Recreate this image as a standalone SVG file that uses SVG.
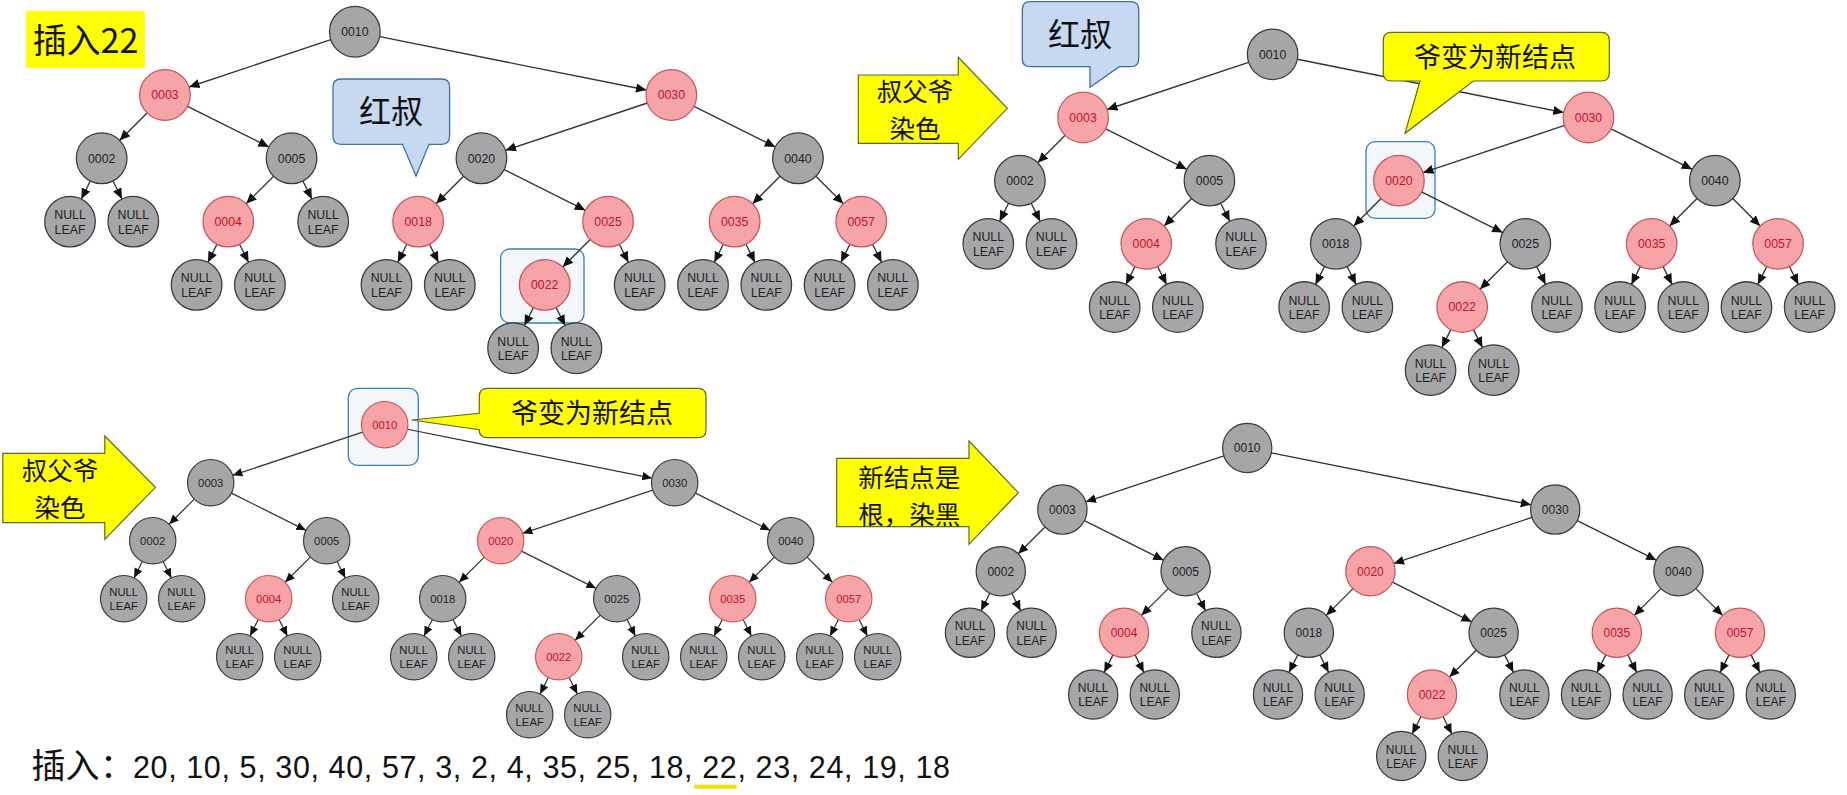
<svg xmlns="http://www.w3.org/2000/svg" width="1847" height="795" viewBox="0 0 1847 795">
<defs>
<marker id="arr" viewBox="0 0 10 10" refX="10" refY="5" markerWidth="10" markerHeight="10" markerUnits="userSpaceOnUse" orient="auto"><path d="M0,0.6 L10,5 L0,9.4 z" fill="#111"/></marker>
</defs>
<style>
.e line{stroke:#333;stroke-width:1.3;marker-end:url(#arr)}
.g{fill:#a6a6a8;stroke:#3a3a3a;stroke-width:1.2}
.r{fill:#f6a4a7;stroke:#c4585a;stroke-width:1.2}
.tg,.tr{font-family:"Liberation Sans",Arial,sans-serif;font-size:11.7px;text-anchor:middle}
.tg{fill:#1e1e1e}
.tr{fill:#c4102c}
.hl{fill:#f3f6fb;stroke:#3d7fb0;stroke-width:1.3}
.cj{font-family:"Noto Sans CJK SC","Noto Sans CJK JP",sans-serif;fill:#111;text-anchor:middle}
.yb{fill:#ffff00;stroke:#5a6a2a;stroke-width:1.2}
.bb{fill:#c6d9f0;stroke:#3f6fa6;stroke-width:1.3}
</style>
<rect width="1847" height="795" fill="#ffffff"/>

<!-- highlight boxes -->
<rect class="hl" x="500.6" y="249" width="83.4" height="74" rx="9"/>
<rect class="hl" x="1366" y="141.7" width="69" height="76.6" rx="9"/>
<rect class="hl" x="348.3" y="388.3" width="70" height="77" rx="9"/>

<!-- ===== Panel 1 ===== -->
<g id="panel1" transform="translate(70,31.7) scale(1.055)">
<g class="e" id="p1-edges">
<line x1="247.23" y1="7.59" x2="112.77" y2="52.41"/>
<line x1="293.53" y1="4.71" x2="546.47" y2="55.29"/>
<line x1="73.03" y1="76.97" x2="46.97" y2="103.03"/>
<line x1="111.47" y1="70.73" x2="188.53" y2="109.27"/>
<line x1="547.23" y1="67.59" x2="412.77" y2="112.41"/>
<line x1="591.47" y1="70.73" x2="668.53" y2="109.27"/>
<line x1="19.27" y1="141.47" x2="10.73" y2="158.53"/>
<line x1="40.73" y1="141.47" x2="49.27" y2="158.53"/>
<line x1="193.03" y1="136.97" x2="166.97" y2="163.03"/>
<line x1="220.73" y1="141.47" x2="229.27" y2="158.53"/>
<line x1="373.03" y1="136.97" x2="346.97" y2="163.03"/>
<line x1="411.47" y1="130.73" x2="488.53" y2="169.27"/>
<line x1="673.03" y1="136.97" x2="646.97" y2="163.03"/>
<line x1="706.97" y1="136.97" x2="733.03" y2="163.03"/>
<line x1="139.27" y1="201.47" x2="130.73" y2="218.53"/>
<line x1="160.73" y1="201.47" x2="169.27" y2="218.53"/>
<line x1="319.27" y1="201.47" x2="310.73" y2="218.53"/>
<line x1="340.73" y1="201.47" x2="349.27" y2="218.53"/>
<line x1="493.03" y1="196.97" x2="466.97" y2="223.03"/>
<line x1="520.73" y1="201.47" x2="529.27" y2="218.53"/>
<line x1="619.27" y1="201.47" x2="610.73" y2="218.53"/>
<line x1="640.73" y1="201.47" x2="649.27" y2="218.53"/>
<line x1="739.27" y1="201.47" x2="730.73" y2="218.53"/>
<line x1="760.73" y1="201.47" x2="769.27" y2="218.53"/>
<line x1="439.27" y1="261.47" x2="430.73" y2="278.53"/>
<line x1="460.73" y1="261.47" x2="469.27" y2="278.53"/>
</g>
<g id="p1-n0010"><circle class="g" cx="270" cy="0" r="24"/><text class="tg" x="270" y="4.2">0010</text></g>
<g id="p1-n0003"><circle class="r" cx="90" cy="60" r="24"/><text class="tr" x="90" y="64.2">0003</text></g>
<g id="p1-n0030"><circle class="r" cx="570" cy="60" r="24"/><text class="tr" x="570" y="64.2">0030</text></g>
<g id="p1-n0002"><circle class="g" cx="30" cy="120" r="24"/><text class="tg" x="30" y="124.2">0002</text></g>
<g id="p1-n0005"><circle class="g" cx="210" cy="120" r="24"/><text class="tg" x="210" y="124.2">0005</text></g>
<g id="p1-n0020"><circle class="g" cx="390" cy="120" r="24"/><text class="tg" x="390" y="124.2">0020</text></g>
<g id="p1-n0040"><circle class="g" cx="690" cy="120" r="24"/><text class="tg" x="690" y="124.2">0040</text></g>
<g id="p1-n0004"><circle class="r" cx="150" cy="180" r="24"/><text class="tr" x="150" y="184.2">0004</text></g>
<g id="p1-n0018"><circle class="r" cx="330" cy="180" r="24"/><text class="tr" x="330" y="184.2">0018</text></g>
<g id="p1-n0025"><circle class="r" cx="510" cy="180" r="24"/><text class="tr" x="510" y="184.2">0025</text></g>
<g id="p1-n0035"><circle class="r" cx="630" cy="180" r="24"/><text class="tr" x="630" y="184.2">0035</text></g>
<g id="p1-n0057"><circle class="r" cx="750" cy="180" r="24"/><text class="tr" x="750" y="184.2">0057</text></g>
<g id="p1-n0022"><circle class="r" cx="450" cy="240" r="24"/><text class="tr" x="450" y="244.2">0022</text></g>
<g id="p1-nil1"><circle class="g" cx="0" cy="180" r="24"/><text class="tg" x="0" y="177.7">NULL</text><text class="tg" x="0" y="191.5">LEAF</text></g>
<g id="p1-nil2"><circle class="g" cx="60" cy="180" r="24"/><text class="tg" x="60" y="177.7">NULL</text><text class="tg" x="60" y="191.5">LEAF</text></g>
<g id="p1-nil3"><circle class="g" cx="240" cy="180" r="24"/><text class="tg" x="240" y="177.7">NULL</text><text class="tg" x="240" y="191.5">LEAF</text></g>
<g id="p1-nil4"><circle class="g" cx="120" cy="240" r="24"/><text class="tg" x="120" y="237.7">NULL</text><text class="tg" x="120" y="251.5">LEAF</text></g>
<g id="p1-nil5"><circle class="g" cx="180" cy="240" r="24"/><text class="tg" x="180" y="237.7">NULL</text><text class="tg" x="180" y="251.5">LEAF</text></g>
<g id="p1-nil6"><circle class="g" cx="300" cy="240" r="24"/><text class="tg" x="300" y="237.7">NULL</text><text class="tg" x="300" y="251.5">LEAF</text></g>
<g id="p1-nil7"><circle class="g" cx="360" cy="240" r="24"/><text class="tg" x="360" y="237.7">NULL</text><text class="tg" x="360" y="251.5">LEAF</text></g>
<g id="p1-nil8"><circle class="g" cx="540" cy="240" r="24"/><text class="tg" x="540" y="237.7">NULL</text><text class="tg" x="540" y="251.5">LEAF</text></g>
<g id="p1-nil9"><circle class="g" cx="600" cy="240" r="24"/><text class="tg" x="600" y="237.7">NULL</text><text class="tg" x="600" y="251.5">LEAF</text></g>
<g id="p1-nil10"><circle class="g" cx="660" cy="240" r="24"/><text class="tg" x="660" y="237.7">NULL</text><text class="tg" x="660" y="251.5">LEAF</text></g>
<g id="p1-nil11"><circle class="g" cx="720" cy="240" r="24"/><text class="tg" x="720" y="237.7">NULL</text><text class="tg" x="720" y="251.5">LEAF</text></g>
<g id="p1-nil12"><circle class="g" cx="780" cy="240" r="24"/><text class="tg" x="780" y="237.7">NULL</text><text class="tg" x="780" y="251.5">LEAF</text></g>
<g id="p1-nil13"><circle class="g" cx="420" cy="300" r="24"/><text class="tg" x="420" y="297.7">NULL</text><text class="tg" x="420" y="311.5">LEAF</text></g>
<g id="p1-nil14"><circle class="g" cx="480" cy="300" r="24"/><text class="tg" x="480" y="297.7">NULL</text><text class="tg" x="480" y="311.5">LEAF</text></g>
</g>

<!-- ===== Panel 2 ===== -->
<g id="panel2" transform="translate(988.3,54.3) scale(1.053)">
<g class="e" id="p2-edges">
<line x1="247.23" y1="7.59" x2="112.77" y2="52.41"/>
<line x1="293.53" y1="4.71" x2="546.47" y2="55.29"/>
<line x1="73.03" y1="76.97" x2="46.97" y2="103.03"/>
<line x1="111.47" y1="70.73" x2="188.53" y2="109.27"/>
<line x1="547.23" y1="67.59" x2="412.77" y2="112.41"/>
<line x1="591.47" y1="70.73" x2="668.53" y2="109.27"/>
<line x1="19.27" y1="141.47" x2="10.73" y2="158.53"/>
<line x1="40.73" y1="141.47" x2="49.27" y2="158.53"/>
<line x1="193.03" y1="136.97" x2="166.97" y2="163.03"/>
<line x1="220.73" y1="141.47" x2="229.27" y2="158.53"/>
<line x1="373.03" y1="136.97" x2="346.97" y2="163.03"/>
<line x1="411.47" y1="130.73" x2="488.53" y2="169.27"/>
<line x1="673.03" y1="136.97" x2="646.97" y2="163.03"/>
<line x1="706.97" y1="136.97" x2="733.03" y2="163.03"/>
<line x1="139.27" y1="201.47" x2="130.73" y2="218.53"/>
<line x1="160.73" y1="201.47" x2="169.27" y2="218.53"/>
<line x1="319.27" y1="201.47" x2="310.73" y2="218.53"/>
<line x1="340.73" y1="201.47" x2="349.27" y2="218.53"/>
<line x1="493.03" y1="196.97" x2="466.97" y2="223.03"/>
<line x1="520.73" y1="201.47" x2="529.27" y2="218.53"/>
<line x1="619.27" y1="201.47" x2="610.73" y2="218.53"/>
<line x1="640.73" y1="201.47" x2="649.27" y2="218.53"/>
<line x1="739.27" y1="201.47" x2="730.73" y2="218.53"/>
<line x1="760.73" y1="201.47" x2="769.27" y2="218.53"/>
<line x1="439.27" y1="261.47" x2="430.73" y2="278.53"/>
<line x1="460.73" y1="261.47" x2="469.27" y2="278.53"/>
</g>
<g id="p2-n0010"><circle class="g" cx="270" cy="0" r="24"/><text class="tg" x="270" y="4.2">0010</text></g>
<g id="p2-n0003"><circle class="r" cx="90" cy="60" r="24"/><text class="tr" x="90" y="64.2">0003</text></g>
<g id="p2-n0030"><circle class="r" cx="570" cy="60" r="24"/><text class="tr" x="570" y="64.2">0030</text></g>
<g id="p2-n0002"><circle class="g" cx="30" cy="120" r="24"/><text class="tg" x="30" y="124.2">0002</text></g>
<g id="p2-n0005"><circle class="g" cx="210" cy="120" r="24"/><text class="tg" x="210" y="124.2">0005</text></g>
<g id="p2-n0020"><circle class="r" cx="390" cy="120" r="24"/><text class="tr" x="390" y="124.2">0020</text></g>
<g id="p2-n0040"><circle class="g" cx="690" cy="120" r="24"/><text class="tg" x="690" y="124.2">0040</text></g>
<g id="p2-n0004"><circle class="r" cx="150" cy="180" r="24"/><text class="tr" x="150" y="184.2">0004</text></g>
<g id="p2-n0018"><circle class="g" cx="330" cy="180" r="24"/><text class="tg" x="330" y="184.2">0018</text></g>
<g id="p2-n0025"><circle class="g" cx="510" cy="180" r="24"/><text class="tg" x="510" y="184.2">0025</text></g>
<g id="p2-n0035"><circle class="r" cx="630" cy="180" r="24"/><text class="tr" x="630" y="184.2">0035</text></g>
<g id="p2-n0057"><circle class="r" cx="750" cy="180" r="24"/><text class="tr" x="750" y="184.2">0057</text></g>
<g id="p2-n0022"><circle class="r" cx="450" cy="240" r="24"/><text class="tr" x="450" y="244.2">0022</text></g>
<g id="p2-nil1"><circle class="g" cx="0" cy="180" r="24"/><text class="tg" x="0" y="177.7">NULL</text><text class="tg" x="0" y="191.5">LEAF</text></g>
<g id="p2-nil2"><circle class="g" cx="60" cy="180" r="24"/><text class="tg" x="60" y="177.7">NULL</text><text class="tg" x="60" y="191.5">LEAF</text></g>
<g id="p2-nil3"><circle class="g" cx="240" cy="180" r="24"/><text class="tg" x="240" y="177.7">NULL</text><text class="tg" x="240" y="191.5">LEAF</text></g>
<g id="p2-nil4"><circle class="g" cx="120" cy="240" r="24"/><text class="tg" x="120" y="237.7">NULL</text><text class="tg" x="120" y="251.5">LEAF</text></g>
<g id="p2-nil5"><circle class="g" cx="180" cy="240" r="24"/><text class="tg" x="180" y="237.7">NULL</text><text class="tg" x="180" y="251.5">LEAF</text></g>
<g id="p2-nil6"><circle class="g" cx="300" cy="240" r="24"/><text class="tg" x="300" y="237.7">NULL</text><text class="tg" x="300" y="251.5">LEAF</text></g>
<g id="p2-nil7"><circle class="g" cx="360" cy="240" r="24"/><text class="tg" x="360" y="237.7">NULL</text><text class="tg" x="360" y="251.5">LEAF</text></g>
<g id="p2-nil8"><circle class="g" cx="540" cy="240" r="24"/><text class="tg" x="540" y="237.7">NULL</text><text class="tg" x="540" y="251.5">LEAF</text></g>
<g id="p2-nil9"><circle class="g" cx="600" cy="240" r="24"/><text class="tg" x="600" y="237.7">NULL</text><text class="tg" x="600" y="251.5">LEAF</text></g>
<g id="p2-nil10"><circle class="g" cx="660" cy="240" r="24"/><text class="tg" x="660" y="237.7">NULL</text><text class="tg" x="660" y="251.5">LEAF</text></g>
<g id="p2-nil11"><circle class="g" cx="720" cy="240" r="24"/><text class="tg" x="720" y="237.7">NULL</text><text class="tg" x="720" y="251.5">LEAF</text></g>
<g id="p2-nil12"><circle class="g" cx="780" cy="240" r="24"/><text class="tg" x="780" y="237.7">NULL</text><text class="tg" x="780" y="251.5">LEAF</text></g>
<g id="p2-nil13"><circle class="g" cx="420" cy="300" r="24"/><text class="tg" x="420" y="297.7">NULL</text><text class="tg" x="420" y="311.5">LEAF</text></g>
<g id="p2-nil14"><circle class="g" cx="480" cy="300" r="24"/><text class="tg" x="480" y="297.7">NULL</text><text class="tg" x="480" y="311.5">LEAF</text></g>
</g>

<!-- ===== Panel 3 ===== -->
<g id="panel3" transform="translate(123.7,424.7) scale(0.9667)">
<g class="e" id="p3-edges">
<line x1="247.23" y1="7.59" x2="112.77" y2="52.41"/>
<line x1="293.53" y1="4.71" x2="546.47" y2="55.29"/>
<line x1="73.03" y1="76.97" x2="46.97" y2="103.03"/>
<line x1="111.47" y1="70.73" x2="188.53" y2="109.27"/>
<line x1="547.23" y1="67.59" x2="412.77" y2="112.41"/>
<line x1="591.47" y1="70.73" x2="668.53" y2="109.27"/>
<line x1="19.27" y1="141.47" x2="10.73" y2="158.53"/>
<line x1="40.73" y1="141.47" x2="49.27" y2="158.53"/>
<line x1="193.03" y1="136.97" x2="166.97" y2="163.03"/>
<line x1="220.73" y1="141.47" x2="229.27" y2="158.53"/>
<line x1="373.03" y1="136.97" x2="346.97" y2="163.03"/>
<line x1="411.47" y1="130.73" x2="488.53" y2="169.27"/>
<line x1="673.03" y1="136.97" x2="646.97" y2="163.03"/>
<line x1="706.97" y1="136.97" x2="733.03" y2="163.03"/>
<line x1="139.27" y1="201.47" x2="130.73" y2="218.53"/>
<line x1="160.73" y1="201.47" x2="169.27" y2="218.53"/>
<line x1="319.27" y1="201.47" x2="310.73" y2="218.53"/>
<line x1="340.73" y1="201.47" x2="349.27" y2="218.53"/>
<line x1="493.03" y1="196.97" x2="466.97" y2="223.03"/>
<line x1="520.73" y1="201.47" x2="529.27" y2="218.53"/>
<line x1="619.27" y1="201.47" x2="610.73" y2="218.53"/>
<line x1="640.73" y1="201.47" x2="649.27" y2="218.53"/>
<line x1="739.27" y1="201.47" x2="730.73" y2="218.53"/>
<line x1="760.73" y1="201.47" x2="769.27" y2="218.53"/>
<line x1="439.27" y1="261.47" x2="430.73" y2="278.53"/>
<line x1="460.73" y1="261.47" x2="469.27" y2="278.53"/>
</g>
<g id="p3-n0010"><circle class="r" cx="270" cy="0" r="24"/><text class="tr" x="270" y="4.2">0010</text></g>
<g id="p3-n0003"><circle class="g" cx="90" cy="60" r="24"/><text class="tg" x="90" y="64.2">0003</text></g>
<g id="p3-n0030"><circle class="g" cx="570" cy="60" r="24"/><text class="tg" x="570" y="64.2">0030</text></g>
<g id="p3-n0002"><circle class="g" cx="30" cy="120" r="24"/><text class="tg" x="30" y="124.2">0002</text></g>
<g id="p3-n0005"><circle class="g" cx="210" cy="120" r="24"/><text class="tg" x="210" y="124.2">0005</text></g>
<g id="p3-n0020"><circle class="r" cx="390" cy="120" r="24"/><text class="tr" x="390" y="124.2">0020</text></g>
<g id="p3-n0040"><circle class="g" cx="690" cy="120" r="24"/><text class="tg" x="690" y="124.2">0040</text></g>
<g id="p3-n0004"><circle class="r" cx="150" cy="180" r="24"/><text class="tr" x="150" y="184.2">0004</text></g>
<g id="p3-n0018"><circle class="g" cx="330" cy="180" r="24"/><text class="tg" x="330" y="184.2">0018</text></g>
<g id="p3-n0025"><circle class="g" cx="510" cy="180" r="24"/><text class="tg" x="510" y="184.2">0025</text></g>
<g id="p3-n0035"><circle class="r" cx="630" cy="180" r="24"/><text class="tr" x="630" y="184.2">0035</text></g>
<g id="p3-n0057"><circle class="r" cx="750" cy="180" r="24"/><text class="tr" x="750" y="184.2">0057</text></g>
<g id="p3-n0022"><circle class="r" cx="450" cy="240" r="24"/><text class="tr" x="450" y="244.2">0022</text></g>
<g id="p3-nil1"><circle class="g" cx="0" cy="180" r="24"/><text class="tg" x="0" y="177.7">NULL</text><text class="tg" x="0" y="191.5">LEAF</text></g>
<g id="p3-nil2"><circle class="g" cx="60" cy="180" r="24"/><text class="tg" x="60" y="177.7">NULL</text><text class="tg" x="60" y="191.5">LEAF</text></g>
<g id="p3-nil3"><circle class="g" cx="240" cy="180" r="24"/><text class="tg" x="240" y="177.7">NULL</text><text class="tg" x="240" y="191.5">LEAF</text></g>
<g id="p3-nil4"><circle class="g" cx="120" cy="240" r="24"/><text class="tg" x="120" y="237.7">NULL</text><text class="tg" x="120" y="251.5">LEAF</text></g>
<g id="p3-nil5"><circle class="g" cx="180" cy="240" r="24"/><text class="tg" x="180" y="237.7">NULL</text><text class="tg" x="180" y="251.5">LEAF</text></g>
<g id="p3-nil6"><circle class="g" cx="300" cy="240" r="24"/><text class="tg" x="300" y="237.7">NULL</text><text class="tg" x="300" y="251.5">LEAF</text></g>
<g id="p3-nil7"><circle class="g" cx="360" cy="240" r="24"/><text class="tg" x="360" y="237.7">NULL</text><text class="tg" x="360" y="251.5">LEAF</text></g>
<g id="p3-nil8"><circle class="g" cx="540" cy="240" r="24"/><text class="tg" x="540" y="237.7">NULL</text><text class="tg" x="540" y="251.5">LEAF</text></g>
<g id="p3-nil9"><circle class="g" cx="600" cy="240" r="24"/><text class="tg" x="600" y="237.7">NULL</text><text class="tg" x="600" y="251.5">LEAF</text></g>
<g id="p3-nil10"><circle class="g" cx="660" cy="240" r="24"/><text class="tg" x="660" y="237.7">NULL</text><text class="tg" x="660" y="251.5">LEAF</text></g>
<g id="p3-nil11"><circle class="g" cx="720" cy="240" r="24"/><text class="tg" x="720" y="237.7">NULL</text><text class="tg" x="720" y="251.5">LEAF</text></g>
<g id="p3-nil12"><circle class="g" cx="780" cy="240" r="24"/><text class="tg" x="780" y="237.7">NULL</text><text class="tg" x="780" y="251.5">LEAF</text></g>
<g id="p3-nil13"><circle class="g" cx="420" cy="300" r="24"/><text class="tg" x="420" y="297.7">NULL</text><text class="tg" x="420" y="311.5">LEAF</text></g>
<g id="p3-nil14"><circle class="g" cx="480" cy="300" r="24"/><text class="tg" x="480" y="297.7">NULL</text><text class="tg" x="480" y="311.5">LEAF</text></g>
</g>

<!-- ===== Panel 4 ===== -->
<g id="panel4" transform="translate(970,448) scale(1.0267)">
<g class="e" id="p4-edges">
<line x1="247.23" y1="7.59" x2="112.77" y2="52.41"/>
<line x1="293.53" y1="4.71" x2="546.47" y2="55.29"/>
<line x1="73.03" y1="76.97" x2="46.97" y2="103.03"/>
<line x1="111.47" y1="70.73" x2="188.53" y2="109.27"/>
<line x1="547.23" y1="67.59" x2="412.77" y2="112.41"/>
<line x1="591.47" y1="70.73" x2="668.53" y2="109.27"/>
<line x1="19.27" y1="141.47" x2="10.73" y2="158.53"/>
<line x1="40.73" y1="141.47" x2="49.27" y2="158.53"/>
<line x1="193.03" y1="136.97" x2="166.97" y2="163.03"/>
<line x1="220.73" y1="141.47" x2="229.27" y2="158.53"/>
<line x1="373.03" y1="136.97" x2="346.97" y2="163.03"/>
<line x1="411.47" y1="130.73" x2="488.53" y2="169.27"/>
<line x1="673.03" y1="136.97" x2="646.97" y2="163.03"/>
<line x1="706.97" y1="136.97" x2="733.03" y2="163.03"/>
<line x1="139.27" y1="201.47" x2="130.73" y2="218.53"/>
<line x1="160.73" y1="201.47" x2="169.27" y2="218.53"/>
<line x1="319.27" y1="201.47" x2="310.73" y2="218.53"/>
<line x1="340.73" y1="201.47" x2="349.27" y2="218.53"/>
<line x1="493.03" y1="196.97" x2="466.97" y2="223.03"/>
<line x1="520.73" y1="201.47" x2="529.27" y2="218.53"/>
<line x1="619.27" y1="201.47" x2="610.73" y2="218.53"/>
<line x1="640.73" y1="201.47" x2="649.27" y2="218.53"/>
<line x1="739.27" y1="201.47" x2="730.73" y2="218.53"/>
<line x1="760.73" y1="201.47" x2="769.27" y2="218.53"/>
<line x1="439.27" y1="261.47" x2="430.73" y2="278.53"/>
<line x1="460.73" y1="261.47" x2="469.27" y2="278.53"/>
</g>
<g id="p4-n0010"><circle class="g" cx="270" cy="0" r="24"/><text class="tg" x="270" y="4.2">0010</text></g>
<g id="p4-n0003"><circle class="g" cx="90" cy="60" r="24"/><text class="tg" x="90" y="64.2">0003</text></g>
<g id="p4-n0030"><circle class="g" cx="570" cy="60" r="24"/><text class="tg" x="570" y="64.2">0030</text></g>
<g id="p4-n0002"><circle class="g" cx="30" cy="120" r="24"/><text class="tg" x="30" y="124.2">0002</text></g>
<g id="p4-n0005"><circle class="g" cx="210" cy="120" r="24"/><text class="tg" x="210" y="124.2">0005</text></g>
<g id="p4-n0020"><circle class="r" cx="390" cy="120" r="24"/><text class="tr" x="390" y="124.2">0020</text></g>
<g id="p4-n0040"><circle class="g" cx="690" cy="120" r="24"/><text class="tg" x="690" y="124.2">0040</text></g>
<g id="p4-n0004"><circle class="r" cx="150" cy="180" r="24"/><text class="tr" x="150" y="184.2">0004</text></g>
<g id="p4-n0018"><circle class="g" cx="330" cy="180" r="24"/><text class="tg" x="330" y="184.2">0018</text></g>
<g id="p4-n0025"><circle class="g" cx="510" cy="180" r="24"/><text class="tg" x="510" y="184.2">0025</text></g>
<g id="p4-n0035"><circle class="r" cx="630" cy="180" r="24"/><text class="tr" x="630" y="184.2">0035</text></g>
<g id="p4-n0057"><circle class="r" cx="750" cy="180" r="24"/><text class="tr" x="750" y="184.2">0057</text></g>
<g id="p4-n0022"><circle class="r" cx="450" cy="240" r="24"/><text class="tr" x="450" y="244.2">0022</text></g>
<g id="p4-nil1"><circle class="g" cx="0" cy="180" r="24"/><text class="tg" x="0" y="177.7">NULL</text><text class="tg" x="0" y="191.5">LEAF</text></g>
<g id="p4-nil2"><circle class="g" cx="60" cy="180" r="24"/><text class="tg" x="60" y="177.7">NULL</text><text class="tg" x="60" y="191.5">LEAF</text></g>
<g id="p4-nil3"><circle class="g" cx="240" cy="180" r="24"/><text class="tg" x="240" y="177.7">NULL</text><text class="tg" x="240" y="191.5">LEAF</text></g>
<g id="p4-nil4"><circle class="g" cx="120" cy="240" r="24"/><text class="tg" x="120" y="237.7">NULL</text><text class="tg" x="120" y="251.5">LEAF</text></g>
<g id="p4-nil5"><circle class="g" cx="180" cy="240" r="24"/><text class="tg" x="180" y="237.7">NULL</text><text class="tg" x="180" y="251.5">LEAF</text></g>
<g id="p4-nil6"><circle class="g" cx="300" cy="240" r="24"/><text class="tg" x="300" y="237.7">NULL</text><text class="tg" x="300" y="251.5">LEAF</text></g>
<g id="p4-nil7"><circle class="g" cx="360" cy="240" r="24"/><text class="tg" x="360" y="237.7">NULL</text><text class="tg" x="360" y="251.5">LEAF</text></g>
<g id="p4-nil8"><circle class="g" cx="540" cy="240" r="24"/><text class="tg" x="540" y="237.7">NULL</text><text class="tg" x="540" y="251.5">LEAF</text></g>
<g id="p4-nil9"><circle class="g" cx="600" cy="240" r="24"/><text class="tg" x="600" y="237.7">NULL</text><text class="tg" x="600" y="251.5">LEAF</text></g>
<g id="p4-nil10"><circle class="g" cx="660" cy="240" r="24"/><text class="tg" x="660" y="237.7">NULL</text><text class="tg" x="660" y="251.5">LEAF</text></g>
<g id="p4-nil11"><circle class="g" cx="720" cy="240" r="24"/><text class="tg" x="720" y="237.7">NULL</text><text class="tg" x="720" y="251.5">LEAF</text></g>
<g id="p4-nil12"><circle class="g" cx="780" cy="240" r="24"/><text class="tg" x="780" y="237.7">NULL</text><text class="tg" x="780" y="251.5">LEAF</text></g>
<g id="p4-nil13"><circle class="g" cx="420" cy="300" r="24"/><text class="tg" x="420" y="297.7">NULL</text><text class="tg" x="420" y="311.5">LEAF</text></g>
<g id="p4-nil14"><circle class="g" cx="480" cy="300" r="24"/><text class="tg" x="480" y="297.7">NULL</text><text class="tg" x="480" y="311.5">LEAF</text></g>
</g>

<!-- ===== Labels / callouts ===== -->
<g id="title">
<rect x="26" y="11" width="119" height="57" fill="#ffff00"/>
<text class="cj" x="85.5" y="53" font-size="34">插入22</text>
</g>

<g id="callout-p1-uncle">
<path class="bb" d="M341,79 H441.6 Q449.6,79 449.6,87 V136.3 Q449.6,144.3 441.6,144.3 H429 L416,176 L402.5,144.3 H341 Q333,144.3 333,136.3 V87 Q333,79 341,79 Z"/>
<text class="cj" x="391" y="123" font-size="32">红叔</text>
</g>

<g id="callout-p2-uncle">
<path class="bb" d="M1030.3,1.7 H1130.7 Q1138.7,1.7 1138.7,9.7 V58.7 Q1138.7,66.7 1130.7,66.7 H1119.3 L1090,87.3 V66.7 H1030.3 Q1022.3,66.7 1022.3,58.7 V9.7 Q1022.3,1.7 1030.3,1.7 Z"/>
<text class="cj" x="1080" y="45.5" font-size="32">红叔</text>
</g>

<g id="callout-p2-grand">
<path class="yb" d="M1391.3,32.3 H1601.3 Q1609.3,32.3 1609.3,40.3 V73 Q1609.3,81 1601.3,81 H1473.3 L1405,133.3 L1420,81 H1391.3 Q1383.3,81 1383.3,73 V40.3 Q1383.3,32.3 1391.3,32.3 Z"/>
<text class="cj" x="1495" y="67" font-size="27">爷变为新结点</text>
</g>

<g id="callout-p3-grand">
<path class="yb" d="M487.3,388.3 H698 Q706,388.3 706,396.3 V429.7 Q706,437.7 698,437.7 H487.3 Q479.3,437.7 479.3,429.7 L411.7,420 L479.3,413.3 V396.3 Q479.3,388.3 487.3,388.3 Z"/>
<text class="cj" x="592" y="423" font-size="27">爷变为新结点</text>
</g>

<g id="arrow-p2">
<path class="yb" d="M858.3,75 H958.3 V57.3 L1007.3,108.3 L958.3,159.3 V143.3 H858.3 Z"/>
<text class="cj" font-size="25.5"><tspan x="915" y="100.9">叔父爷</tspan><tspan x="915" y="137.9">染色</tspan></text>
</g>

<g id="arrow-p3">
<path class="yb" d="M2.8,453.3 H104.8 V436 L155.4,487.3 L104.8,539.3 V522.7 H2.8 Z"/>
<text class="cj" font-size="25.5"><tspan x="60" y="479.9">叔父爷</tspan><tspan x="60" y="516.9">染色</tspan></text>
</g>

<g id="arrow-p4">
<path class="yb" d="M836.7,458.3 H969 V441 L1018.3,492.7 L969,544.3 V526.7 H836.7 Z"/>
<text class="cj" font-size="25.5"><tspan x="909.3" y="486.6">新结点是</tspan><tspan x="909.3" y="523.6">根，染黑</tspan></text>
</g>

<g id="sequence">
<text y="777.5" font-family="Noto Sans CJK SC, sans-serif" font-size="34" fill="#111"><tspan x="31.6">插入</tspan><tspan x="100">：</tspan></text>
<text x="133" y="777.5" font-family="Liberation Sans, Arial, sans-serif" font-size="30.5" fill="#111" textLength="817" lengthAdjust="spacing">20, 10, 5, 30, 40, 57, 3, 2, 4, 35, 25, 18, 22, 23, 24, 19, 18</text>
<line x1="694.3" y1="786.7" x2="736.7" y2="786.7" stroke="#f2e200" stroke-width="4"/>
</g>
</svg>
